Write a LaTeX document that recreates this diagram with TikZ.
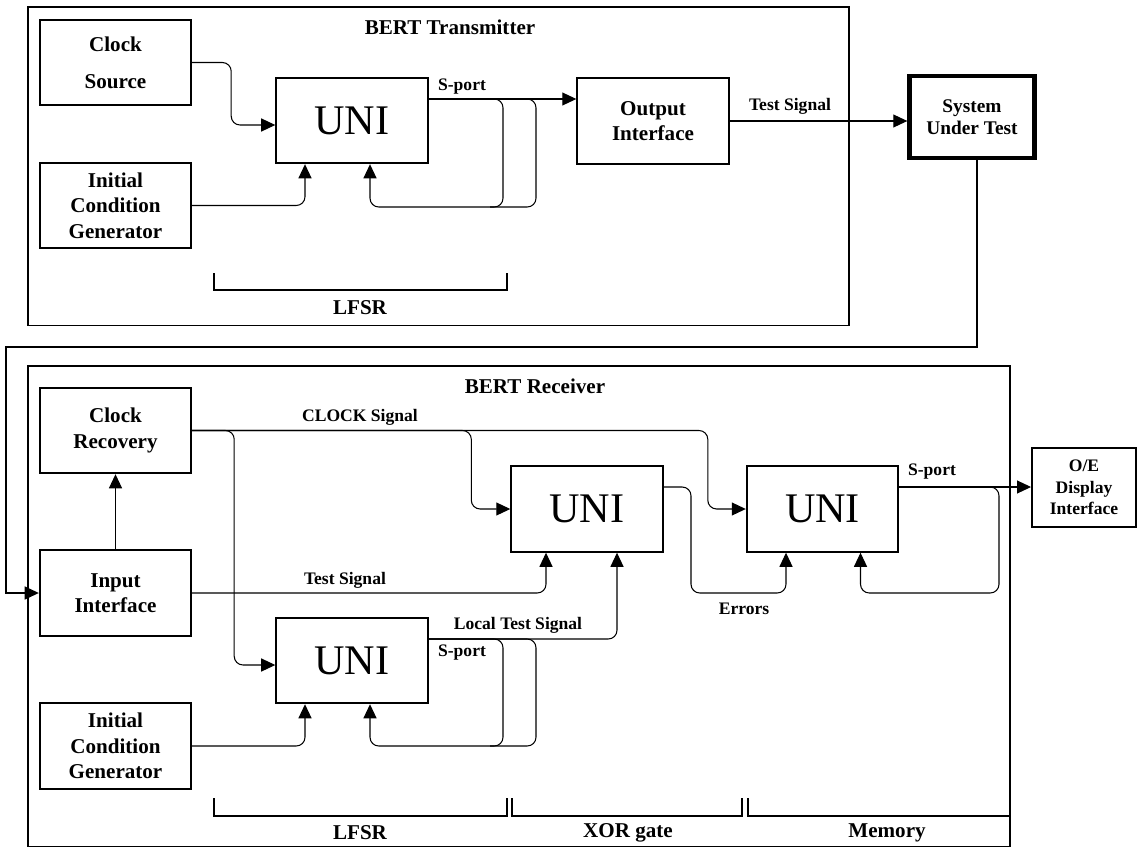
\documentclass[tikz,border=0pt]{standalone}
\usepackage{fontspec}
\setmainfont{Liberation Serif}
\usetikzlibrary{arrows.meta,calc}
\begin{document}
\begin{tikzpicture}[x=0.02cm,y=-0.02cm,
    blk/.style={draw,line width=1.1pt,minimum width=3.03cm,minimum height=1.71cm,align=center,inner sep=1pt,font=\fontsize{12}{14.5}\selectfont\bfseries},
    uni/.style={blk,font=\fontsize{24}{28}\selectfont},
    frame/.style={line width=1.1pt},
    brk/.style={line width=1.3pt},
    lbl/.style={font=\fontsize{10}{12}\selectfont\bfseries,inner sep=0pt},
    ttl/.style={font=\fontsize{12}{14}\selectfont\bfseries,inner sep=0pt},
    wire/.style={line width=0.6pt,rounded corners=5pt},
    conn/.style={wire,-{Triangle[length=8pt,width=7.4pt]}}]
\useasboundingbox (0,0) rectangle (1138,848);
\draw[frame] (27.6,7) rectangle (849,325.5);
\draw[frame] (27.6,366) rectangle (1010,846.5);
\node[ttl] (ttx) at (450,27) {BERT Transmitter};
\node[ttl] (trx) at (535,386) {BERT Receiver};
\node[blk] (clksrc) at (115.5,62.5) {Clock\\[6.5pt]Source};
\node[blk] (icgT) at (115.5,205.5) {Initial\\Condition\\Generator};
\node[uni] (uniT) at (352,120.5) {UNI};
\node[blk] (outif) at (653,121) {Output\\Interface};
\node[blk,line width=2.5pt,minimum width=2.5cm,minimum height=1.64cm,font=\fontsize{11}{12.5}\selectfont\bfseries] (sut) at (972,117) {System\\Under Test};
\node[blk] (clkrec) at (115.5,430.5) {Clock\\Recovery};
\node[blk] (inif) at (115.5,593) {Input\\Interface};
\node[blk] (icgR) at (115.5,746) {Initial\\Condition\\Generator};
\node[uni] (uniL) at (352,660.5) {UNI};
\node[uni] (uniX) at (587,509) {UNI};
\node[uni] (uniM) at (822.5,509) {UNI};
\node[blk,minimum width=2.08cm,minimum height=1.58cm,font=\fontsize{10}{12.2}\selectfont\bfseries] (oe) at (1084,487.5) {O/E\\Display\\Interface};
\node[lbl] (sportT) at (462,87) {S-port};
\node[lbl] (tsT) at (790,106) {Test Signal};
\node[ttl] (lfsrT) at (360,308) {LFSR};
\node[lbl] (clkS) at (360,417) {CLOCK Signal};
\node[lbl] (tsR) at (345,580) {Test Signal};
\node[lbl] (ltsR) at (518,625) {Local Test Signal};
\node[lbl] (sportL) at (462,653) {S-port};
\node[lbl] (errR) at (744,609) {Errors};
\node[lbl] (sportM) at (932,472) {S-port};
\node[ttl] (lfsrR) at (360,833) {LFSR};
\node[ttl] (xorR) at (628,833) {XOR gate};
\node[ttl] (memR) at (887,833) {Memory};
\draw[brk] (214,273) |- (507,290) -- (507,273);
\draw[brk] (214,798) |- (507,816) -- (507,798);
\draw[brk] (512,798) |- (742,816) -- (742,798);
\draw[brk] (748,798) |- (1010,816);
\draw[conn] (clksrc.east) -- ++(39,0) |- ($(uniT.west)+(0,4.5)$);
\draw[conn] (icgT.east) -| ($(uniT.south)+(-47,0)$);
\coordinate (sT) at ($(uniT.east)+(0,-21.5)$);
\draw[conn] (sT) -- (sT -| outif.west);
\draw[conn] (sT) -| (503,207) -| ($(uniT.south)+(18,0)$);
\draw[wire] (sT) -| (536,207) -- (490,207);
\draw[conn] (outif.east) -- (outif.east -| sut.west);
\draw[conn,sharp corners] ($(sut.south)+(5,0)$) |- (6,347) |- (inif.west);
\draw[conn] (inif) -- (clkrec);
\draw[conn] (clkrec.east) -- ++(42,0) |- ($(uniL.west)+(0,4.5)$);
\draw[conn] (clkrec.east) -| ($(uniX.west)+(-39,0)$) -- (uniX.west);
\draw[conn] (clkrec.east) -| ($(uniM.west)+(-38,0)$) -- (uniM.west);
\draw[conn] (inif.east) -| ($(uniX.south)+(-41,0)$);
\coordinate (sL) at ($(uniL.east)+(0,-21.5)$);
\draw[conn] (sL) -| ($(uniX.south)+(30,0)$);
\draw[conn] (sL) -| (503,746) -| ($(uniL.south)+(18,0)$);
\draw[wire] (sL) -| (536,746) -- (490,746);
\draw[conn] (icgR.east) -| ($(uniL.south)+(-47,0)$);
\draw[conn] ($(uniX.east)+(0,-22)$) -| (691,593) -| ($(uniM.south)+(-36.5,0)$);
\coordinate (sM) at ($(uniM.east)+(0,-22)$);
\draw[conn] (sM) -- (sM -| oe.west);
\draw[conn] (sM) -| (999,593) -| ($(uniM.south)+(38,0)$);
\end{tikzpicture}
\end{document}
